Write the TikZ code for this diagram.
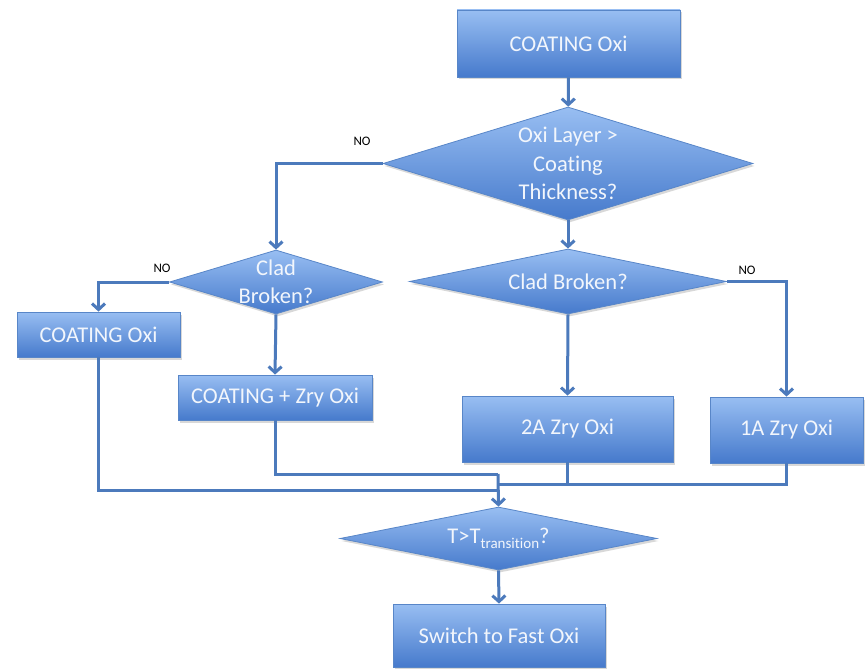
\documentclass[tikz,border=0pt]{standalone}
\usepackage{fontspec}
\setmainfont[Ligatures=NoCommon]{Carlito}
\usetikzlibrary{shapes.geometric,arrows.meta,shadows}
\definecolor{boxtop}{RGB}{152,190,242}
\definecolor{boxbot}{RGB}{70,122,204}
\definecolor{boxline}{RGB}{88,134,200}
\definecolor{conn}{RGB}{76,122,188}
\definecolor{txtcol}{RGB}{242,246,252}
\tikzset{
  shade/.style={draw=boxline, line width=0.8pt, top color=boxtop, bottom color=boxbot,
    drop shadow={opacity=0.3, shadow xshift=1.5pt, shadow yshift=-2.5pt}},
  flowbox/.style={shade, rectangle, inner sep=0pt, text=txtcol,
    font=\fontsize{22.5}{27}\selectfont},
  decision/.style={shade, diamond, inner sep=0pt},
  dtext/.style={text=txtcol, align=center, font=\fontsize{22.5}{28.5}\selectfont, inner sep=0pt},
  nolabel/.style={font=\fontsize{13}{15}\selectfont, text=black, inner sep=0pt},
  conline/.style={draw=conn, line width=3pt},
  arr/.style={conline, -{Straight Barb[length=6pt,width=13pt]}}
}
\begin{document}
\begin{tikzpicture}[x=1pt,y=-1pt]
\useasboundingbox (0,0) rectangle (865,669);
\fill[white] (0,0) rectangle (865,669);

% boxes
\node[flowbox, minimum width=223, minimum height=67] (top) at (568.5,43.5) {COATING Oxi};
\node[flowbox, minimum width=163, minimum height=45] (lbox) at (98.5,334.5) {COATING Oxi};
\node[flowbox, minimum width=194, minimum height=45] (zbox) at (275,397.5) {COATING + Zry Oxi};
\node[flowbox, minimum width=211, minimum height=66] (b2a) at (567.5,429) {2A Zry Oxi};
\node[flowbox, minimum width=153, minimum height=66] (b1a) at (786.5,430) {1A Zry Oxi};
\node[flowbox, minimum width=212, minimum height=63] (sw) at (499,635.5) {Switch to Fast Oxi};

% decisions
\node[decision, minimum width=370, minimum height=113] (d1) at (568,163.5) {};
\node[dtext] (d1t) at (d1) {Oxi Layer >\\Coating\\Thickness?};
\node[decision, minimum width=213, minimum height=64] (d2) at (276,282) {};
\node[dtext] (d2t) at (d2) {Clad\\Broken?};
\node[decision, minimum width=317, minimum height=65] (d3) at (568,281.5) {};
\node[dtext] (d3t) at (d3) {Clad Broken?};
\node[decision, minimum width=317, minimum height=63] (d4) at (498.5,538.5) {};
\node[dtext] (d4t) at (d4) {T>T\raisebox{-5pt}{\fontsize{15}{15}\selectfont transition}?};

% NO labels
\node[nolabel] (no1) at (362,141) {NO};
\node[nolabel] (no2) at (162,268) {NO};
\node[nolabel] (no3) at (747,270) {NO};

% junction points
\coordinate (jZ) at (498,474);
\coordinate (jR) at (498,484);
\coordinate (jL) at (498,490);

% connectors
\draw[arr] (top) -- (d1);
\draw[arr] (d1.west) -| (d2.north);
\draw[arr] (d2.west) -| (lbox.north);
\draw[arr] (d2.south) -- (zbox.north);
\draw[arr] (d1.south) -- (d3.north);
\draw[arr] (d3.south) -- (b2a.north);
\draw[arr] (d3.east) -| (b1a.north);
\draw[conline] (lbox.south) |- (jL);
\draw[conline] (zbox.south) |- (jZ);
\draw[conline] (b1a.south) |- (jR);
\draw[conline] (b2a.south) -- (b2a.south |- jR);
\draw[arr] (jZ) -- (d4.north);
\draw[arr] (d4.south) -- (sw.north);
\end{tikzpicture}
\end{document}
